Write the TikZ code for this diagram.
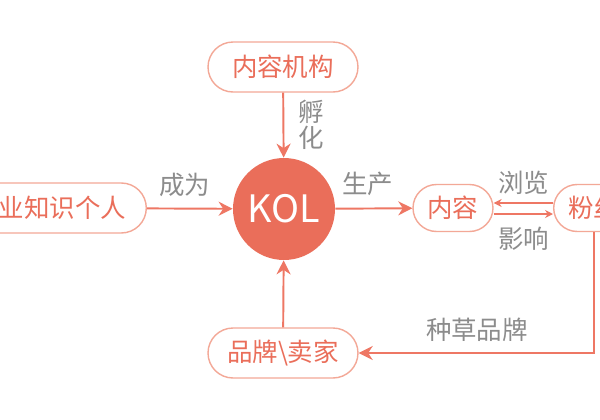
\documentclass[tikz,border=0pt]{standalone}
\usepackage{fontspec}
\setmainfont{Noto Sans CJK SC}
\usetikzlibrary{arrows.meta}
\definecolor{coral}{HTML}{EA6E5A}
\definecolor{linec}{HTML}{EE7764}
\definecolor{lcoral}{HTML}{F3A897}
\definecolor{lbl}{HTML}{8C8C8C}
\tikzset{
  pill/.style={draw=lcoral, line width=0.8pt, rounded corners=0.5cm, minimum height=1cm,
    text=coral, font=\fontsize{14.5}{16}\selectfont, inner sep=0pt},
  lbl/.style={text=lbl, font=\fontsize{14.5}{15}\selectfont, inner sep=0pt},
  arr/.style={draw=linec, line width=1.1pt, -{Stealth[length=8pt,width=8pt]}},
  sarr/.style={draw=linec, line width=0.8pt, -{Stealth[length=4.5pt,width=4.5pt]}}
}
\begin{document}
\begin{tikzpicture}[x=0.02cm,y=-0.02cm]
\clip (0,0) rectangle (600,420);
\fill[white] (0,0) rectangle (600,420);
\node[circle, fill=coral, minimum size=2.04cm, inner sep=0pt, text=white,
  font=\fontsize{21.5}{23}\selectfont] (kol) at (284,209) {KOL};
\node[pill, minimum width=3cm] (jg) at (283,67) {内容机构};
\node[pill, minimum width=3.86cm, anchor=east] (gr) at (147,208) {专业知识个人};
\node[pill, minimum width=1.6cm, minimum height=0.94cm, rounded corners=0.47cm] (nr) at (453,208) {内容};
\node[pill, minimum width=1.6cm, minimum height=0.94cm, rounded corners=0.47cm, anchor=west] (fs) at (553,208) {粉丝};
\node[pill, minimum width=3cm] (pp) at (283,353) {品牌\textbackslash 卖家};
\draw[arr] (jg) -- (kol);
\draw[arr] (gr) -- (kol);
\draw[arr] (kol) -- (nr);
\draw[arr] (pp) -- (kol);
\draw[sarr] ([yshift=0.1cm]fs.west) -- ([yshift=0.1cm]nr.east);
\draw[sarr] ([yshift=-0.12cm]nr.east) -- ([yshift=-0.12cm]fs.west);
\draw[arr] (fs.south) |- (pp.east);
\node[lbl, align=center] (l1) at (311,125) {孵\\化};
\node[lbl] (l2) at (185,185) {成为};
\node[lbl] (l3) at (368,184) {生产};
\node[lbl] (l4) at (524,183) {浏览};
\node[lbl] (l5) at (524,239) {影响};
\node[lbl] (l6) at (477,330) {种草品牌};
\end{tikzpicture}
\end{document}
